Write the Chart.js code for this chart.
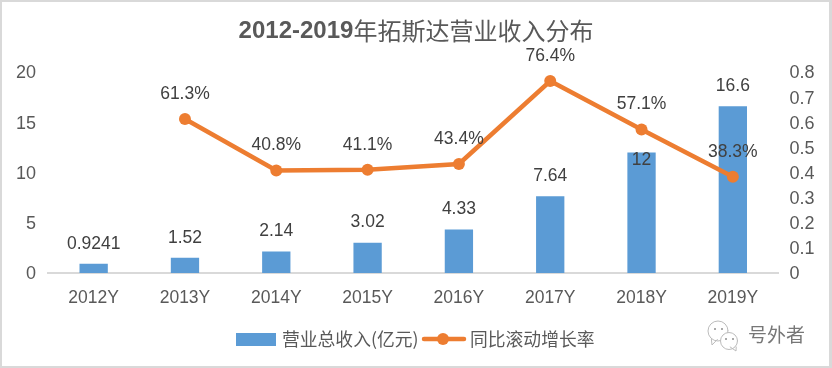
<!DOCTYPE html>
<html lang="zh-CN">
<head>
<meta charset="UTF-8">
<title>2012-2019年拓斯达营业收入分布</title>
<style>
    html, body { margin: 0; padding: 0; background: #fff; }
    #wrap { position: relative; width: 832px; height: 368px; overflow: hidden; }
    canvas { display: block; }
    #frame { position: absolute; left: 0; top: 0; right: 0; bottom: 0; border: solid #d9d9d9; border-width: 2px 3px 2px 2px; pointer-events: none; }
</style>
</head>
<body>
<div id="wrap">
    <canvas id="chart" width="832" height="368"></canvas>
    <div id="frame"></div>
</div>
<script src="https://cdn.jsdelivr.net/npm/chart.js"></script>
<script>
    // 数据
    const categories = ['2012Y', '2013Y', '2014Y', '2015Y', '2016Y', '2017Y', '2018Y', '2019Y'];
    const revenue = [0.9241, 1.52, 2.14, 3.02, 4.33, 7.64, 12, 16.6];
    const growth = [null, 0.613, 0.408, 0.411, 0.434, 0.764, 0.571, 0.383];
    const revenueLabels = ['0.9241', '1.52', '2.14', '3.02', '4.33', '7.64', '12', '16.6'];
    const growthLabels = ['', '61.3%', '40.8%', '41.1%', '43.4%', '76.4%', '57.1%', '38.3%'];
    const titleBold = '2012-2019';
    const titleRest = '年拓斯达营业收入分布';
    const revenueName = '营业总收入(亿元)';
    const growthName = '同比滚动增长率';
    const watermark = '号外者';

    const BLUE = '#5b9bd5';
    const ORANGE = '#ed7d31';
    const TEXT = '#595959';
    const LATIN = '"Liberation Sans", Arial, sans-serif';
    const CJK = '"Noto Sans CJK SC", sans-serif';

    // 微信气泡图标
    function bubble(c, x, y, r, tailX, tailY) {
        c.beginPath();
        c.arc(x, y, r, 0, Math.PI * 2);
        c.fillStyle = '#fff';
        c.fill();
        c.stroke();
        c.beginPath();
        c.moveTo(x + (tailX - x) * 0.6 - 3, y + (tailY - y) * 0.6);
        c.lineTo(tailX, tailY);
        c.lineTo(x + (tailX - x) * 0.6 + 3, y + (tailY - y) * 0.6);
        c.stroke();
        c.fillStyle = '#aaa';
        c.fillRect(x - 4, y - 3, 2, 2);
        c.fillRect(x + 3, y - 3, 2, 2);
    }

    // 标题、数据标签、图例、水印都画在这里
    const extras = {
        id: 'extras',
        afterDatasetsDraw(chart) {
            const c = chart.ctx;
            c.save();
            c.textBaseline = 'middle';

            // 标题
            c.fillStyle = TEXT;
            c.font = 'bold 24px ' + LATIN;
            const w1 = c.measureText(titleBold).width;
            c.font = '24px ' + CJK;
            const w2 = c.measureText(titleRest).width;
            const tx = 416 - (w1 + w2) / 2;
            c.textAlign = 'left';
            c.font = 'bold 24px ' + LATIN;
            c.fillText(titleBold, tx, 31);
            c.font = '24px ' + CJK;
            c.fillText(titleRest, tx + w1, 31);

            // 数据标签
            c.textAlign = 'center';
            c.font = '17.5px ' + LATIN;
            c.fillStyle = '#404040';
            chart.getDatasetMeta(1).data.forEach((el, i) => {
                const dy = i === 6 ? 8 : -20;   // 2018Y 的标签压在柱子里
                c.fillText(revenueLabels[i], el.x, el.y + dy);
            });
            chart.getDatasetMeta(0).data.forEach((el, i) => {
                if (growth[i] !== null) c.fillText(growthLabels[i], el.x, el.y - 25);
            });

            // 图例
            const ly = 339;
            c.fillStyle = BLUE;
            c.fillRect(236, ly - 6, 40, 13);
            c.strokeStyle = ORANGE;
            c.lineWidth = 4.5;
            c.lineCap = 'round';
            c.beginPath();
            c.moveTo(424, ly);
            c.lineTo(464, ly);
            c.stroke();
            c.fillStyle = ORANGE;
            c.beginPath();
            c.arc(443, ly, 6, 0, Math.PI * 2);
            c.fill();
            c.fillStyle = TEXT;
            c.textAlign = 'left';
            c.font = '17.8px ' + CJK;
            c.fillText(revenueName, 282, ly);
            c.fillText(growthName, 470, ly);

            // 水印
            c.fillStyle = '#777';
            c.font = '19px ' + CJK;
            c.fillText(watermark, 748, 335);
            c.strokeStyle = '#bbb';
            c.lineWidth = 1;
            bubble(c, 718, 331, 10, 712, 345);
            bubble(c, 729, 341, 8.5, 736, 351);
            c.restore();
        }
    };

    new Chart(document.getElementById('chart'), {
        data: {
            labels: categories,
            datasets: [
                {
                    type: 'line',
                    label: growthName,
                    data: growth,
                    yAxisID: 'y1',
                    borderColor: ORANGE,
                    backgroundColor: ORANGE,
                    borderWidth: 4.5,
                    pointRadius: 6,
                    pointBackgroundColor: ORANGE,
                    pointBorderWidth: 0,
                    tension: 0,
                    order: 0
                },
                {
                    type: 'bar',
                    label: revenueName,
                    data: revenue,
                    yAxisID: 'y',
                    backgroundColor: BLUE,
                    barPercentage: 0.31,
                    categoryPercentage: 1,
                    order: 1
                }
            ]
        },
        options: {
            responsive: false,
            animation: false,
            // 上边距留给标题
            layout: { padding: { top: 72 } },
            plugins: { legend: { display: false }, title: { display: false }, tooltip: { enabled: false } },
            scales: {
                x: {
                    grid: { display: false, drawTicks: false },
                    border: { color: '#d9d9d9', width: 2 },
                    ticks: { color: TEXT, font: { size: 17.5, family: LATIN }, padding: 15, maxRotation: 0 },
                    afterFit(s) { s.height = 95; }
                },
                y: {
                    position: 'left',
                    min: 0, max: 20,
                    grid: { display: false, drawTicks: false },
                    border: { display: false },
                    ticks: { stepSize: 5, color: TEXT, font: { size: 18, family: LATIN }, padding: 12, labelOffset: 1.5 },
                    afterFit(s) { s.width = 48; }
                },
                y1: {
                    position: 'right',
                    min: 0, max: 0.8,
                    grid: { display: false, drawTicks: false },
                    border: { display: false },
                    ticks: { stepSize: 0.1, color: TEXT, font: { size: 18, family: LATIN }, padding: 11, labelOffset: 1.5 },
                    afterFit(s) { s.width = 53.5; }
                }
            }
        },
        plugins: [extras]
    });
</script>
</body>
</html>
